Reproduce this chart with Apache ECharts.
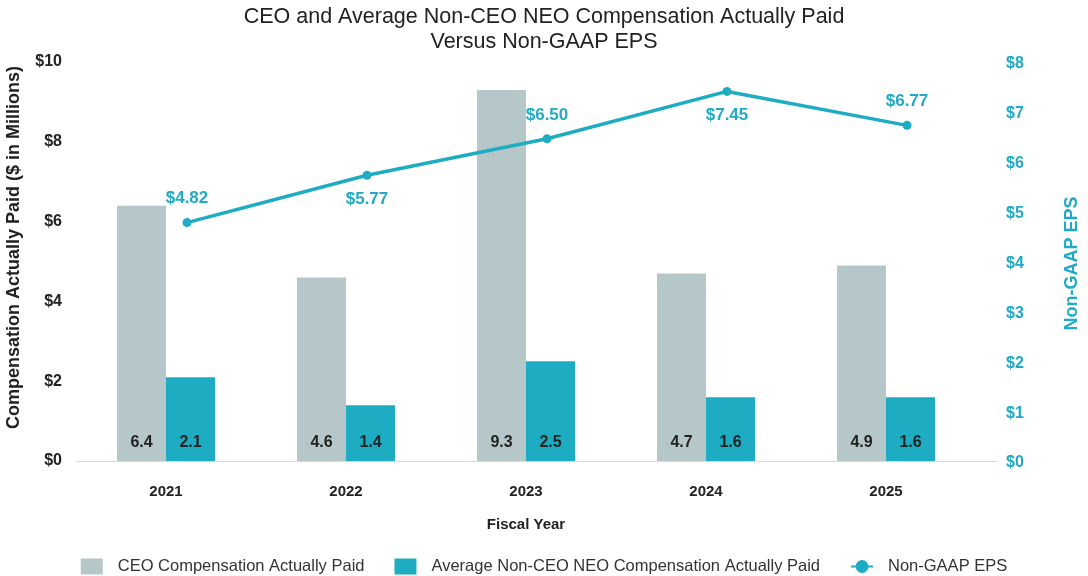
<!DOCTYPE html>
<html><head><meta charset="utf-8">
<script src="https://cdn.jsdelivr.net/npm/echarts@6/dist/echarts.min.js"></script>
<style>html,body{margin:0;padding:0;background:#fff}#c{width:1088px;height:576px}</style>
</head><body><div id="c"></div>
<script>
const years = ['2021','2022','2023','2024','2025'];
const ceoCAP = [6.4, 4.6, 9.3, 4.7, 4.9];
const neoCAP = [2.1, 1.4, 2.5, 1.6, 1.6];
const eps = [4.82, 5.77, 6.50, 7.45, 6.77];
const leftTicks = [0, 2, 4, 6, 8, 10];
const rightTicks = [0, 1, 2, 3, 4, 5, 6, 7, 8];
const epsLabelSide = ['top', 'bottom', 'top', 'bottom', 'top'];

const GREY = '#b6c7c9', TEAL = '#1eacc3', TEAL_TXT = '#22a9c6';
const FONT = '"Liberation Sans", Arial, sans-serif';
const chart = echarts.init(document.getElementById('c'));
chart.setOption({
  animation: false,
  textStyle: { fontFamily: FONT },
  title: {
    text: 'CEO and Average Non-CEO NEO Compensation Actually Paid\nVersus Non-GAAP EPS',
    left: 'center', top: 0,
    textStyle: { fontFamily: FONT, fontSize: 21.5, fontWeight: 'normal', color: '#222', lineHeight: 25 }
  },
  legend: {
    top: 553, left: 'center', itemGap: 30, itemWidth: 22, itemHeight: 16,
    textStyle: { fontFamily: FONT, fontSize: 16.5, color: '#333', padding: [0, 0, 0, 10] },
    data: [
      { name: 'CEO Compensation Actually Paid', icon: 'rect' },
      { name: 'Average Non-CEO NEO Compensation Actually Paid', icon: 'rect' },
      { name: 'Non-GAAP EPS' }
    ]
  },
  grid: [
    { left: 76, right: 112, top: 62, bottom: 115, outerBoundsMode: 'none', containLabel: false },
    { left: 97, right: 91, top: 64, bottom: 113, outerBoundsMode: 'none', containLabel: false }
  ],
  xAxis: [
    { type: 'category', gridIndex: 0, data: years,
      axisLine: { lineStyle: { color: '#d9d9d9', width: 1 } }, axisTick: { show: false },
      axisLabel: { fontFamily: FONT, fontSize: 15, fontWeight: 'bold', color: '#222', margin: 23 },
      name: 'Fiscal Year', nameLocation: 'middle', nameGap: 56,
      nameTextStyle: { fontFamily: FONT, fontSize: 15, fontWeight: 'bold', color: '#222' } },
    { type: 'category', gridIndex: 1, data: years,
      axisLine: { show: false }, axisTick: { show: false },
      axisLabel: { show: false } }
  ],
  yAxis: [
    { type: 'value', gridIndex: 0, min: 0, max: 10, interval: 2, position: 'left',
      splitLine: { show: false }, axisLine: { show: false }, axisTick: { show: false },
      axisLabel: { fontFamily: FONT, fontSize: 16, fontWeight: 'bold', color: '#222', margin: 14,
        formatter: v => leftTicks.includes(v) ? '$' + v : '' },
      name: 'Compensation Actually Paid ($ in Millions)', nameLocation: 'middle', nameGap: 53, nameRotate: 90,
      nameTextStyle: { fontFamily: FONT, fontSize: 18, fontWeight: 'bold', color: '#222', padding: [0, 0, 0, 28] } },
    { type: 'value', gridIndex: 1, min: 0, max: 8, interval: 1, position: 'right',
      splitLine: { show: false }, axisLine: { show: false }, axisTick: { show: false },
      axisLabel: { fontFamily: FONT, fontSize: 16, fontWeight: 'bold', color: TEAL_TXT, margin: 9,
        formatter: v => rightTicks.includes(v) ? '$' + v : '' },
      name: 'Non-GAAP EPS', nameLocation: 'middle', nameGap: 66, nameRotate: 90,
      nameTextStyle: { fontFamily: FONT, fontSize: 18, fontWeight: 'bold', color: TEAL_TXT } }
  ],
  series: [
    { name: 'CEO Compensation Actually Paid', type: 'bar', xAxisIndex: 0, yAxisIndex: 0,
      data: ceoCAP, barWidth: 49, barGap: '0%', itemStyle: { color: GREY },
      label: { show: true, position: 'insideBottom', distance: 10, fontFamily: FONT, fontSize: 16, fontWeight: 'bold', color: '#222',
        formatter: p => p.value.toFixed(1) } },
    { name: 'Average Non-CEO NEO Compensation Actually Paid', type: 'bar', xAxisIndex: 0, yAxisIndex: 0,
      data: neoCAP, barWidth: 49, barGap: '0%', itemStyle: { color: TEAL },
      label: { show: true, position: 'insideBottom', distance: 10, fontFamily: FONT, fontSize: 16, fontWeight: 'bold', color: '#222',
        formatter: p => p.value.toFixed(1) } },
    { name: 'Non-GAAP EPS', type: 'line', xAxisIndex: 1, yAxisIndex: 1,
      data: eps.map((v, i) => ({ value: v, label: { position: epsLabelSide[i] } })),
      symbol: 'circle', symbolSize: 9, lineStyle: { color: TEAL, width: 3.5 }, itemStyle: { color: TEAL },
      label: { show: true, position: 'top', distance: 11, fontFamily: FONT, fontSize: 17, fontWeight: 'bold', color: TEAL_TXT,
        formatter: p => '$' + p.value.toFixed(2) } }
  ],
  graphic: [
    { type: 'line', z: 0, silent: true,
      shape: { x1: 976, y1: 461.5, x2: 997, y2: 461.5 },
      style: { stroke: '#d9d9d9', lineWidth: 1 } }
  ]
});
</script></body></html>
